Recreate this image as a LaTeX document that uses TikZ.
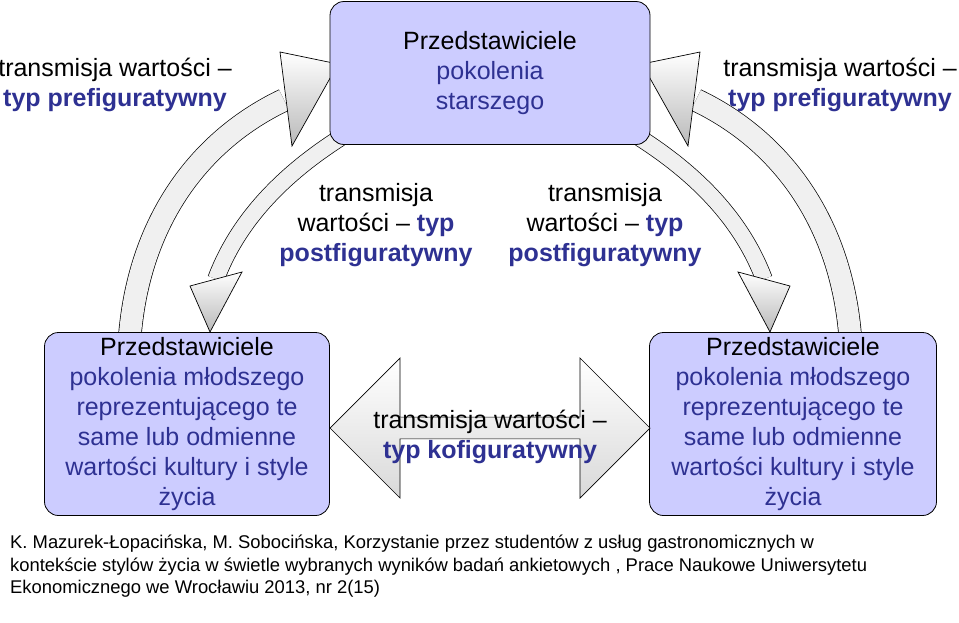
\documentclass[tikz,border=0pt]{standalone}
\usepackage{fontspec}
\setmainfont{Liberation Sans}
\usetikzlibrary{shapes.arrows}
\definecolor{boxfill}{RGB}{204,204,255}
\definecolor{navy}{RGB}{46,49,146}
\tikzstyle{block} = [draw, fill=boxfill, rounded corners=14pt, align=center,
    font=\fontsize{25}{30}\selectfont, line width=0.8pt]
\tikzstyle{lbl} = [align=center, font=\fontsize{25}{30}\selectfont]
\tikzstyle{band} = [double=gray!12, double distance=22pt, line width=0.7pt]
\tikzstyle{head} = [draw, line width=0.7pt, top color=white, bottom color=gray!55]
\newcommand{\hl}[1]{\textcolor{navy}{\textbf{#1}}}
\newcommand{\bl}[1]{\textcolor{navy}{#1}}
\newcommand{\arrowpair}{%
  % outer: up to the older generation
  \draw[band] (130,334) .. controls (140,220) and (200,140) .. (284,100);
  \path[head] (280,52) -- (338,64) -- (292,146) -- cycle;
  % inner: down to the younger generation
  \draw[band, double distance=16pt] (340,138) .. controls (290,170) and (240,215) .. (216,279);
  \path[head] (190,286) -- (242,272) -- (210,332) -- cycle;}

\begin{document}
\begin{tikzpicture}[x=1pt, y=-1pt]
\useasboundingbox (0,0) rectangle (959,622);

\arrowpair
\begin{scope}[xshift=980pt, xscale=-1]
\arrowpair
\end{scope}

\node[block, minimum width=320pt, minimum height=143pt] (old) at (490,73)
  {Przedstawiciele\\\bl{pokolenia}\\\bl{starszego}};
\node[block, minimum width=285pt, minimum height=183pt] (young1) at (187,424)
  {Przedstawiciele\\\bl{pokolenia młodszego}\\\bl{reprezentującego te}\\\bl{same lub odmienne}\\\bl{wartości kultury i style}\\\bl{życia}};
\node[block, minimum width=287pt, minimum height=183pt] (young2) at (793,424)
  {Przedstawiciele\\\bl{pokolenia młodszego}\\\bl{reprezentującego te}\\\bl{same lub odmienne}\\\bl{wartości kultury i style}\\\bl{życia}};

\node[double arrow, draw, line width=0.7pt, minimum width=140pt, minimum height=320pt,
  double arrow head extend=20pt, inner xsep=0pt, top color=white, bottom color=gray!30,
  shading angle=0] (cofig) at (490,428) {};
\node[lbl] (cofigtxt) at (490,437) {transmisja wartości –\\\hl{typ kofiguratywny}};

\node[lbl] (pre1) at (115,85) {transmisja wartości –\\\hl{typ prefiguratywny}};
\node[lbl] (pre2) at (840,85) {transmisja wartości –\\\hl{typ prefiguratywny}};
\node[lbl] (post1) at (376,225) {transmisja\\wartości – \hl{typ}\\\hl{postfiguratywny}};
\node[lbl] (post2) at (605,225) {transmisja\\wartości – \hl{typ}\\\hl{postfiguratywny}};

\node[anchor=north west, align=left, font=\fontsize{18.4}{22.5}\selectfont, inner sep=0pt] (src) at (10,535)
  {K. Mazurek-Łopacińska, M. Sobocińska, Korzystanie przez studentów z usług gastronomicznych w\\
   kontekście stylów życia w świetle wybranych wyników badań ankietowych , Prace Naukowe Uniwersytetu\\
   Ekonomicznego we Wrocławiu 2013, nr 2(15)};
\end{tikzpicture}
\end{document}
